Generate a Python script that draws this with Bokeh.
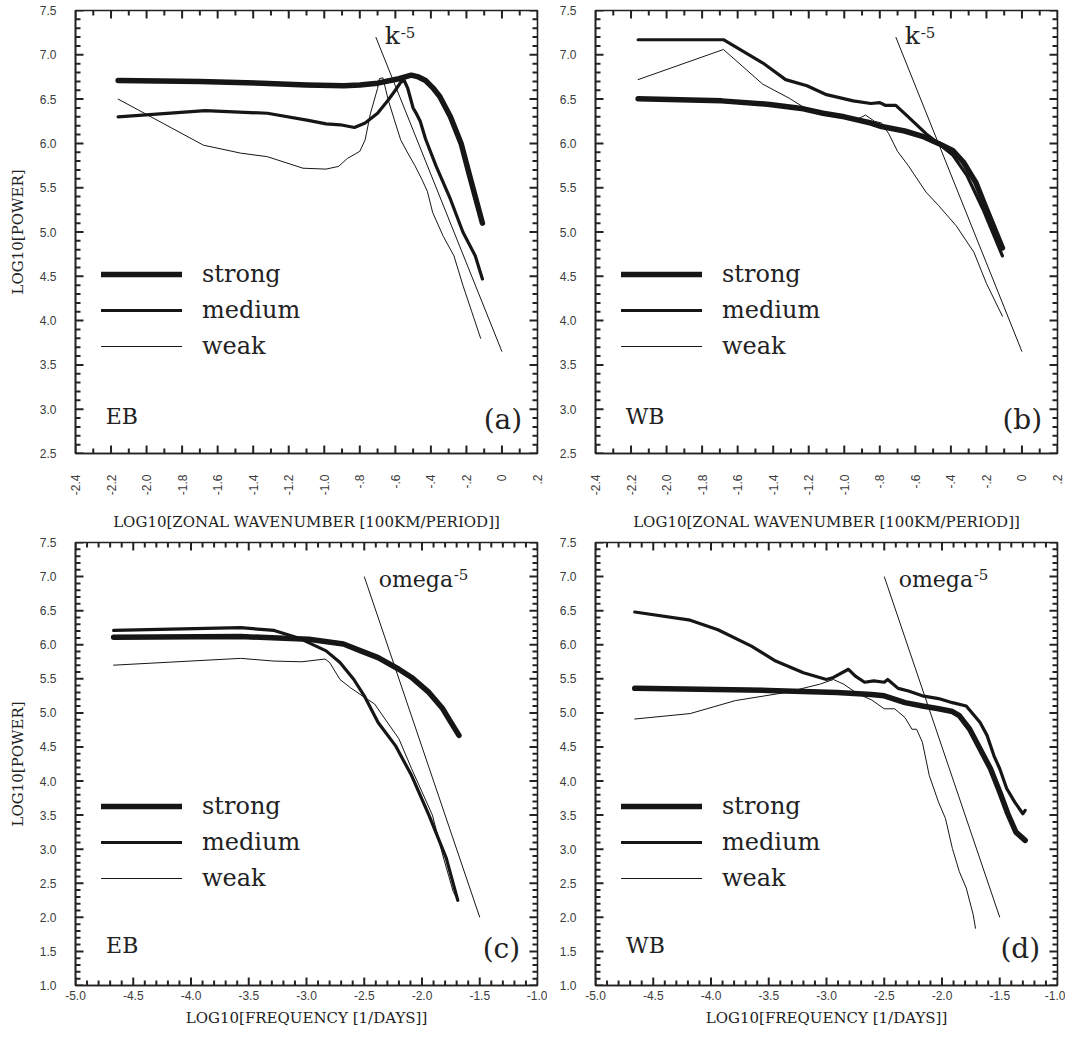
import math
import numpy as np
from bokeh.plotting import figure
from bokeh.models import (FixedTicker, Range1d, Legend, LegendItem,
                          Label, CustomJSTickFormatter, PrintfTickFormatter)
from bokeh.layouts import column, row
from bokeh.embed import file_html
from bokeh.resources import INLINE

# ---------------- data ----------------
# (a) EB, zonal wavenumber
a_strong_x = [-2.16, -1.70, -1.35, -1.10, -0.89, -0.80, -0.70, -0.58, -0.51, -0.47, -0.43, -0.39, -0.35, -0.29, -0.23, -0.18, -0.11]
a_strong_y = [6.71, 6.70, 6.68, 6.66, 6.65, 6.66, 6.68, 6.73, 6.77, 6.75, 6.71, 6.63, 6.53, 6.30, 6.00, 5.62, 5.10]
a_medium_x = [-2.16, -1.67, -1.32, -1.09, -0.99, -0.91, -0.83, -0.77, -0.70, -0.64, -0.60, -0.57, -0.55, -0.53, -0.50, -0.48, -0.46, -0.43, -0.37, -0.29, -0.22, -0.15, -0.11]
a_medium_y = [6.30, 6.37, 6.34, 6.26, 6.22, 6.21, 6.18, 6.23, 6.34, 6.49, 6.60, 6.69, 6.71, 6.62, 6.40, 6.33, 6.25, 6.05, 5.74, 5.37, 5.00, 4.73, 4.47]
a_weak_x = [-2.16, -1.68, -1.47, -1.32, -1.12, -0.99, -0.92, -0.87, -0.80, -0.77, -0.74, -0.70, -0.69, -0.67, -0.64, -0.60, -0.57, -0.53, -0.49, -0.45, -0.42, -0.39, -0.33, -0.27, -0.22, -0.17, -0.12]
a_weak_y = [6.50, 5.98, 5.89, 5.85, 5.72, 5.71, 5.74, 5.83, 5.91, 6.04, 6.34, 6.62, 6.73, 6.74, 6.49, 6.23, 6.04, 5.89, 5.75, 5.59, 5.46, 5.22, 4.95, 4.73, 4.40, 4.10, 3.80]

# (b) WB, zonal wavenumber
b_strong_x = [-2.16, -1.69, -1.42, -1.23, -1.12, -1.00, -0.85, -0.79, -0.66, -0.56, -0.47, -0.39, -0.33, -0.26, -0.20, -0.11]
b_strong_y = [6.505, 6.48, 6.44, 6.39, 6.34, 6.30, 6.23, 6.19, 6.14, 6.08, 6.00, 5.92, 5.79, 5.56, 5.26, 4.82]
b_medium_x = [-2.16, -1.68, -1.46, -1.33, -1.21, -1.10, -0.95, -0.85, -0.80, -0.77, -0.71, -0.64, -0.54, -0.47, -0.39, -0.31, -0.22, -0.11]
b_medium_y = [7.17, 7.17, 6.91, 6.72, 6.65, 6.55, 6.48, 6.45, 6.46, 6.43, 6.43, 6.30, 6.11, 6.00, 5.87, 5.64, 5.26, 4.73]
b_weak_x = [-2.16, -1.68, -1.46, -1.31, -1.19, -1.04, -0.93, -0.88, -0.83, -0.79, -0.75, -0.70, -0.64, -0.54, -0.47, -0.37, -0.27, -0.20, -0.11]
b_weak_y = [6.72, 7.06, 6.67, 6.51, 6.36, 6.30, 6.27, 6.32, 6.25, 6.23, 6.11, 5.91, 5.75, 5.45, 5.30, 5.07, 4.77, 4.42, 4.05]

# (c) EB, frequency
c_strong_x = [-4.67, -3.57, -2.98, -2.68, -2.53, -2.38, -2.20, -2.09, -1.94, -1.82, -1.76, -1.68]
c_strong_y = [6.11, 6.12, 6.08, 6.01, 5.91, 5.81, 5.64, 5.52, 5.30, 5.06, 4.89, 4.67]
c_medium_x = [-4.67, -3.57, -3.28, -3.07, -2.83, -2.71, -2.59, -2.50, -2.38, -2.23, -2.09, -1.94, -1.79, -1.69]
c_medium_y = [6.21, 6.25, 6.21, 6.10, 5.91, 5.74, 5.49, 5.25, 4.86, 4.52, 4.08, 3.50, 2.87, 2.25]
c_weak_x = [-4.67, -3.57, -3.28, -3.04, -2.84, -2.80, -2.71, -2.62, -2.50, -2.41, -2.32, -2.20, -2.09, -2.00, -1.91, -1.82, -1.73, -1.70]
c_weak_y = [5.70, 5.80, 5.76, 5.75, 5.79, 5.74, 5.49, 5.37, 5.23, 5.13, 4.91, 4.62, 4.18, 3.84, 3.50, 2.91, 2.38, 2.28]

# (d) WB, frequency
d_strong_x = [-4.66, -3.50, -2.91, -2.61, -2.50, -2.32, -2.17, -2.03, -1.91, -1.85, -1.76, -1.67, -1.58, -1.50, -1.43, -1.36, -1.28]
d_strong_y = [5.36, 5.33, 5.30, 5.27, 5.25, 5.15, 5.10, 5.06, 5.02, 4.96, 4.76, 4.47, 4.18, 3.84, 3.52, 3.25, 3.13]
d_medium_x = [-4.66, -4.18, -3.94, -3.65, -3.44, -3.20, -3.00, -2.94, -2.81, -2.75, -2.67, -2.59, -2.50, -2.47, -2.38, -2.29, -2.17, -2.03, -1.91, -1.79, -1.73, -1.67, -1.61, -1.55, -1.50, -1.44, -1.37, -1.30, -1.28]
d_medium_y = [6.48, 6.36, 6.22, 5.98, 5.76, 5.59, 5.49, 5.52, 5.64, 5.54, 5.45, 5.47, 5.45, 5.49, 5.36, 5.32, 5.25, 5.21, 5.15, 5.10, 4.98, 4.86, 4.67, 4.37, 4.18, 3.89, 3.69, 3.52, 3.57]
d_weak_x = [-4.66, -4.18, -3.79, -3.35, -3.06, -2.94, -2.85, -2.73, -2.61, -2.50, -2.41, -2.32, -2.26, -2.22, -2.17, -2.11, -2.03, -1.97, -1.91, -1.85, -1.79, -1.73, -1.71]
d_weak_y = [4.91, 4.99, 5.18, 5.30, 5.42, 5.49, 5.42, 5.28, 5.19, 5.06, 5.06, 4.93, 4.76, 4.76, 4.57, 4.08, 3.69, 3.45, 3.01, 2.67, 2.43, 2.04, 1.84]

# reference power-law lines (slope -5)
k_line_x = [-0.71, 0.0]
k_line_y = [7.2, 3.65]
w_line_x = [-2.5, -1.5]
w_line_y = [7.0, 2.0]

series_names = ["strong", "medium", "weak"]
series_widths = [5.5, 3.2, 1.0]

# tick positions
top_x_major = [-2.4, -2.2, -2.0, -1.8, -1.6, -1.4, -1.2, -1.0, -0.8, -0.6, -0.4, -0.2, 0.0, 0.2]
top_x_minor = [-2.3, -2.1, -1.9, -1.7, -1.5, -1.3, -1.1, -0.9, -0.7, -0.5, -0.3, -0.1, 0.1]
bot_x_major = [-5.0, -4.5, -4.0, -3.5, -3.0, -2.5, -2.0, -1.5, -1.0]
bot_x_minor = [float(v) for v in np.round(np.arange(-5.0, -0.95, 0.1), 2) if abs(v * 2 - round(v * 2)) > 1e-6]
top_y_major = [2.5, 3.0, 3.5, 4.0, 4.5, 5.0, 5.5, 6.0, 6.5, 7.0, 7.5]
top_y_minor = [float(v) for v in np.round(np.arange(2.5, 7.55, 0.1), 2) if abs(v * 2 - round(v * 2)) > 1e-6]
bot_y_major = [1.0, 1.5, 2.0, 2.5, 3.0, 3.5, 4.0, 4.5, 5.0, 5.5, 6.0, 6.5, 7.0, 7.5]
bot_y_minor = [float(v) for v in np.round(np.arange(1.0, 7.55, 0.1), 2) if abs(v * 2 - round(v * 2)) > 1e-6]

# ---------------- styling ----------------
INK = "#161616"
TXT = "#222222"
TICK_COL = "#3c3c3c"
FRAME = "#222222"
SERIF = "DejaVu Serif"
SANS = "Liberation Sans"
FW = 462  # frame width in px

wave_fmt_code = """
if (Math.abs(tick) < 1e-9) { return "0"; }
var s = tick.toFixed(1);
return s.replace(/^(-?)0\\./, "$1.");
"""


def style_axis(ax, ticker):
    ax.ticker = ticker
    ax.major_tick_in = 0
    ax.major_tick_out = 0
    ax.minor_tick_in = 0
    ax.minor_tick_out = 0
    ax.axis_line_color = FRAME
    ax.axis_line_width = 1.6
    ax.major_label_text_font = SANS
    ax.major_label_text_font_size = "12px"
    ax.major_label_text_color = TICK_COL


def inward_ticks(p, xr, yr, fh, xmaj, xmin, ymaj, ymin):
    # tick marks pointing into the frame on all four sides (length given in px)
    dx = (xr[1] - xr[0]) / FW
    dy = (yr[1] - yr[0]) / fh
    for pos, L in ((xmin, 5), (xmaj, 8)):
        n = len(pos)
        p.segment(x0=pos, y0=[yr[0]] * n, x1=pos, y1=[yr[0] + L * dy] * n,
                  line_color=FRAME, line_width=2.0)
        p.segment(x0=pos, y0=[yr[1]] * n, x1=pos, y1=[yr[1] - L * dy] * n,
                  line_color=FRAME, line_width=2.0)
    for pos, L in ((ymin, 5), (ymaj, 8)):
        n = len(pos)
        p.segment(x0=[xr[0]] * n, y0=pos, x1=[xr[0] + L * dx] * n, y1=pos,
                  line_color=FRAME, line_width=2.0)
        p.segment(x0=[xr[1]] * n, y0=pos, x1=[xr[1] - L * dx] * n, y1=pos,
                  line_color=FRAME, line_width=2.0)


def make_panel(top, left, xs, ys, ref_x, ref_y, tag, region, ref_word):
    if top:
        xr, yr = (-2.4, 0.2), (2.5, 7.5)
        xmaj, xmin, ymaj, ymin = top_x_major, top_x_minor, top_y_major, top_y_minor
        fh, bt, bb = 444, 10, 80
        xlabel = "LOG10[ZONAL WAVENUMBER [100KM/PERIOD]]"
    else:
        xr, yr = (-5.0, -1.0), (1.0, 7.5)
        xmaj, xmin, ymaj, ymin = bot_x_major, bot_x_minor, bot_y_major, bot_y_minor
        fh, bt, bb = 443, 8, 46
        xlabel = "LOG10[FREQUENCY [1/DAYS]]"
    bl, br = (75, 10) if left else (48, 8)

    p = figure(width=bl + FW + br, height=bt + fh + bb,
               x_range=Range1d(*xr), y_range=Range1d(*yr),
               output_backend="svg", toolbar_location=None,
               min_border_left=bl, min_border_right=br,
               min_border_top=bt, min_border_bottom=bb)
    p.xgrid.visible = False
    p.ygrid.visible = False
    p.outline_line_color = FRAME
    p.outline_line_width = 1.6
    p.background_fill_color = "white"
    p.border_fill_color = "white"

    xa = p.xaxis[0]
    style_axis(xa, FixedTicker(ticks=xmaj))
    ya = p.yaxis[0]
    style_axis(ya, FixedTicker(ticks=ymaj))
    ya.formatter = PrintfTickFormatter(format="%.1f")
    ya.major_label_standoff = 19

    if top:
        xa.formatter = CustomJSTickFormatter(code=wave_fmt_code)
        xa.major_label_orientation = math.pi / 2
        xa.major_label_standoff = 21
        xa.axis_label_standoff = 15
    else:
        xa.formatter = PrintfTickFormatter(format="%.1f")
        xa.major_label_standoff = 5
        xa.axis_label_standoff = 6
    xa.axis_label = xlabel
    xa.axis_label_text_font = SERIF
    xa.axis_label_text_font_size = "15px"
    xa.axis_label_text_font_style = "normal"
    xa.axis_label_text_color = TXT
    if left:
        ya.axis_label = "LOG10[POWER]"
        ya.axis_label_text_font = SERIF
        ya.axis_label_text_font_size = "15px"
        ya.axis_label_text_font_style = "normal"
        ya.axis_label_text_color = TXT
        ya.axis_label_standoff = 10

    # reference slope line
    p.line(ref_x, ref_y, line_color=INK, line_width=1.0)

    renderers = []
    for sx, sy, w in zip(xs, ys, series_widths):
        r = p.line(sx, sy, line_color=INK, line_width=w, line_join="round", line_cap="round")
        renderers.append(r)

    inward_ticks(p, xr, yr, fh, xmaj, xmin, ymaj, ymin)

    legend = Legend(items=[LegendItem(label=n, renderers=[r]) for n, r in zip(series_names, renderers)],
                    location=(26, 89), orientation="vertical",
                    glyph_width=81, glyph_height=36, label_height=36, label_standoff=20,
                    spacing=0, padding=0, margin=0,
                    label_text_font=SERIF, label_text_font_size="24px", label_text_color=TXT,
                    background_fill_alpha=0, border_line_alpha=0)
    p.add_layout(legend)

    if top:
        p.add_layout(Label(x=-2.23, y=2.78, text=region, text_font=SERIF, text_font_size="22px",
                           text_color=TXT))
        p.add_layout(Label(x=0.114, y=2.70, text=tag, text_font=SERIF, text_font_size="28px",
                           text_color=TXT, text_align="right"))
        p.add_layout(Label(x=-0.66, y=7.05, text=ref_word, text_font=SERIF, text_font_size="25px",
                           text_color=TXT))
        p.add_layout(Label(x=-0.57, y=7.19, text="-5", text_font=SERIF, text_font_size="15px",
                           text_color=TXT))
    else:
        p.add_layout(Label(x=-4.735, y=1.40, text=region, text_font=SERIF, text_font_size="22px",
                           text_color=TXT))
        p.add_layout(Label(x=-1.15, y=1.30, text=tag, text_font=SERIF, text_font_size="28px",
                           text_color=TXT, text_align="right"))
        p.add_layout(Label(x=-2.375, y=6.78, text=ref_word, text_font=SERIF, text_font_size="22px",
                           text_color=TXT))
        p.add_layout(Label(x=-1.725, y=6.95, text="-5", text_font=SERIF, text_font_size="15px",
                           text_color=TXT))
    return p


pa = make_panel(True, True, [a_strong_x, a_medium_x, a_weak_x], [a_strong_y, a_medium_y, a_weak_y],
                k_line_x, k_line_y, "(a)", "EB", "k")
pb = make_panel(True, False, [b_strong_x, b_medium_x, b_weak_x], [b_strong_y, b_medium_y, b_weak_y],
                k_line_x, k_line_y, "(b)", "WB", "k")
pc = make_panel(False, True, [c_strong_x, c_medium_x, c_weak_x], [c_strong_y, c_medium_y, c_weak_y],
                w_line_x, w_line_y, "(c)", "EB", "omega")
pd = make_panel(False, False, [d_strong_x, d_medium_x, d_weak_x], [d_strong_y, d_medium_y, d_weak_y],
                w_line_x, w_line_y, "(d)", "WB", "omega")

layout = column(row(pa, pb), row(pc, pd))

open("out.html", "w").write(file_html(layout, INLINE))
